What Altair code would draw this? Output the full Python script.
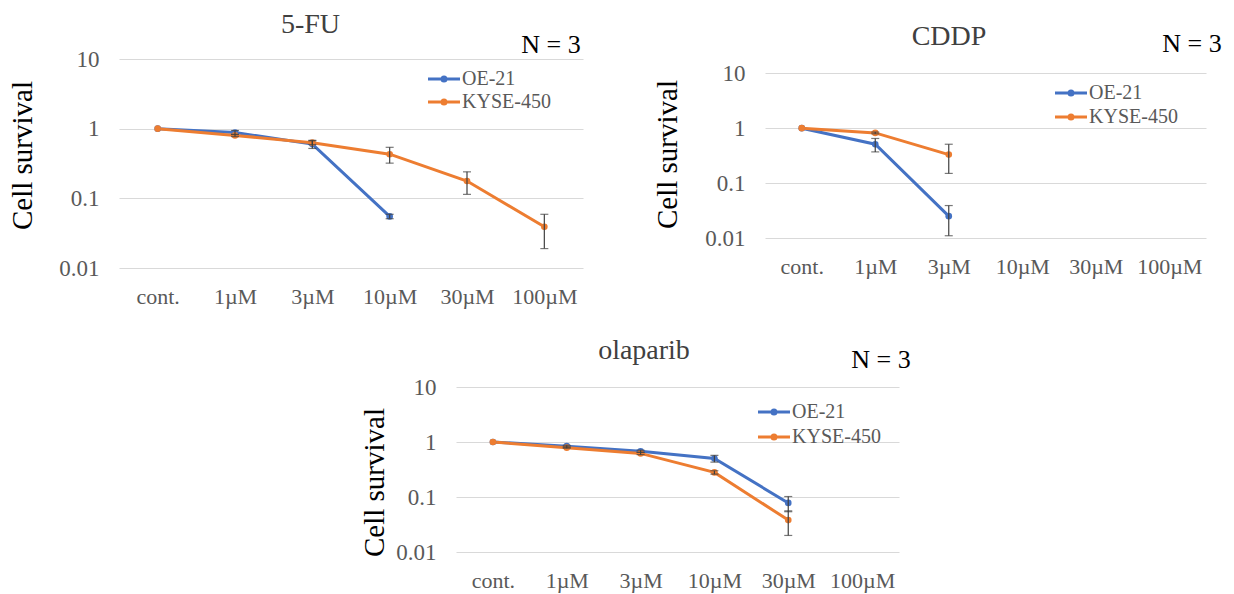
import altair as alt
import pandas as pd

FONT = "Liberation Serif"

doses = ["cont.", "1µM", "3µM", "10µM", "30µM", "100µM"]
series_names = ["OE-21", "KYSE-450"]
series_colors = ["#4472C4", "#ED7D31"]
y_ticks = [0.01, 0.1, 1, 10]
n_label = "N = 3"
titles = ["5-FU", "CDDP", "olaparib"]

# 5-FU
fu_oe21 = [1.0, 0.88, 0.60, 0.055, None, None]
fu_oe21_sd = [0.0, 0.06, 0.08, 0.004, None, None]
fu_kyse = [1.0, 0.80, 0.63, 0.43, 0.177, 0.039]
fu_kyse_sd = [0.0, 0.03, 0.04, 0.11, 0.063, 0.02]

# CDDP
cddp_oe21 = [1.0, 0.51, 0.025, None, None, None]
cddp_oe21_sd = [0.0, 0.14, 0.014, None, None, None]
cddp_kyse = [1.0, 0.82, 0.33, None, None, None]
cddp_kyse_sd = [0.0, 0.03, 0.18, None, None, None]

# olaparib
ola_oe21 = [1.0, 0.84, 0.68, 0.50, 0.078, None]
ola_oe21_sd = [0.0, 0.03, 0.03, 0.07, 0.024, None]
ola_kyse = [1.0, 0.79, 0.62, 0.28, 0.038, None]
ola_kyse_sd = [0.0, 0.02, 0.03, 0.02, 0.018, None]


def make_df(oe, oe_sd, ky, ky_sd):
    rows = []
    for name, vals, sds in [("OE-21", oe, oe_sd), ("KYSE-450", ky, ky_sd)]:
        for d, v, s in zip(doses, vals, sds):
            if v is None:
                continue
            rows.append(dict(dose=d, series=name, value=v,
                             lo=(v - s) if s else None, hi=(v + s) if s else None))
    return pd.DataFrame(rows)


LEG_PATH = "M-3.2,0L3.2,0M0.4,0A0.4,0.4,0,1,1,-0.4,0A0.4,0.4,0,1,1,0.4,0Z"


def panel(df, title, width, height, ydom, leg_x, leg_y, leg_row, n_x, n_y,
          t_dx, t_dy, yt_x, yt_y):
    xenc = alt.X("dose:N", sort=doses,
                 scale=alt.Scale(type="point", domain=doses, padding=0.5),
                 title=None,
                 axis=alt.Axis(labelAngle=0, ticks=False, domain=False, grid=False,
                               labelPadding=35.5, labelBaseline="alphabetic",
                               labelFont=FONT, labelFontSize=22, labelColor="#595959"))

    def yenc(field):
        return alt.Y(field, type="quantitative",
                     scale=alt.Scale(type="log", domain=ydom, nice=False),
                     title="Cell survival",
                     axis=alt.Axis(values=y_ticks, format="~g", grid=True,
                                   gridColor="#D9D9D9", gridWidth=1,
                                   domain=False, ticks=False, labelPadding=20,
                                   labelFont=FONT, labelFontSize=23, labelColor="#595959",
                                   titleFont=FONT, titleFontSize=29, titleFontWeight="normal",
                                   titleColor="black", titleAngle=270, titleAlign="center",
                                   titleBaseline="middle", titleX=yt_x, titleY=yt_y))

    color = alt.Color("series:N",
                      scale=alt.Scale(domain=series_names, range=series_colors),
                      legend=alt.Legend(title=None, orient="none", legendX=leg_x, legendY=leg_y,
                                        symbolType=LEG_PATH, symbolSize=100,
                                        symbolStrokeWidth=3, labelFont=FONT,
                                        labelFontSize=20, labelColor="#595959",
                                        labelOffset=8, rowPadding=leg_row, padding=0))

    base = alt.Chart(df)
    lines = base.mark_line(strokeWidth=3).encode(x=xenc, y=yenc("value"), color=color)
    points = base.mark_point(filled=True, size=44, opacity=1).encode(
        x=xenc, y=yenc("value"), color=color)
    err = base.transform_filter("datum.lo != null")
    rules = err.mark_rule(color="#404040", strokeWidth=1.2).encode(
        x=xenc, y=yenc("lo"), y2="hi:Q")
    cap_lo = err.mark_tick(orient="horizontal", size=8, thickness=1.2,
                           color="#404040").encode(x=xenc, y=yenc("lo"))
    cap_hi = err.mark_tick(orient="horizontal", size=8, thickness=1.2,
                           color="#404040").encode(x=xenc, y=yenc("hi"))
    ntext = alt.Chart(pd.DataFrame({"t": [n_label]})).mark_text(
        font=FONT, fontSize=26, color="black", align="center", baseline="middle"
    ).encode(text="t:N", x=alt.value(n_x), y=alt.value(n_y))

    return alt.layer(lines, points, rules, cap_lo, cap_hi, ntext).properties(
        width=width, height=height,
        title=alt.TitleParams(text=title, font=FONT, fontSize=28, fontWeight="normal",
                              color="#404040", anchor="middle", frame="group",
                              dx=t_dx, dy=t_dy, offset=0),
    )


fu = panel(make_df(fu_oe21, fu_oe21_sd, fu_kyse, fu_kyse_sd), titles[0],
           464, 209, [0.01, 10], 315, 10, 3, 432, -14, -40.5, 7, -97, 96)
cddp = panel(make_df(cddp_oe21, cddp_oe21_sd, cddp_kyse, cddp_kyse_sd), titles[1],
             441, 179, [0.01, 18.2], 296, 24, 4, 427, -15, -36.5, 20, -98, 95)
ola = panel(make_df(ola_oe21, ola_oe21_sd, ola_kyse, ola_kyse_sd), titles[2],
            443, 165, [0.01, 10], 308, 15, 5, 425, -27, -33.5, 18, -82, 95)

spacer = alt.Chart(pd.DataFrame({"s": [0]})).mark_rule(strokeOpacity=0).encode(
    x=alt.value(0), x2=alt.value(337), y=alt.value(0)
).properties(width=337, height=10)

row1 = alt.hconcat(fu, cddp, spacing=182, bounds="flush").resolve_legend(color="independent")
row2 = alt.hconcat(spacer, ola, spacing=0, bounds="flush").resolve_legend(color="independent")

chart = alt.vconcat(row1, row2, spacing=29).resolve_legend(color="independent").properties(
    padding={"left": 8, "top": 11, "right": 5, "bottom": 5},
    background="white",
).configure(font=FONT).configure_view(stroke=None)

chart.save("out.html", embed_options={"renderer": "svg", "actions": False})
